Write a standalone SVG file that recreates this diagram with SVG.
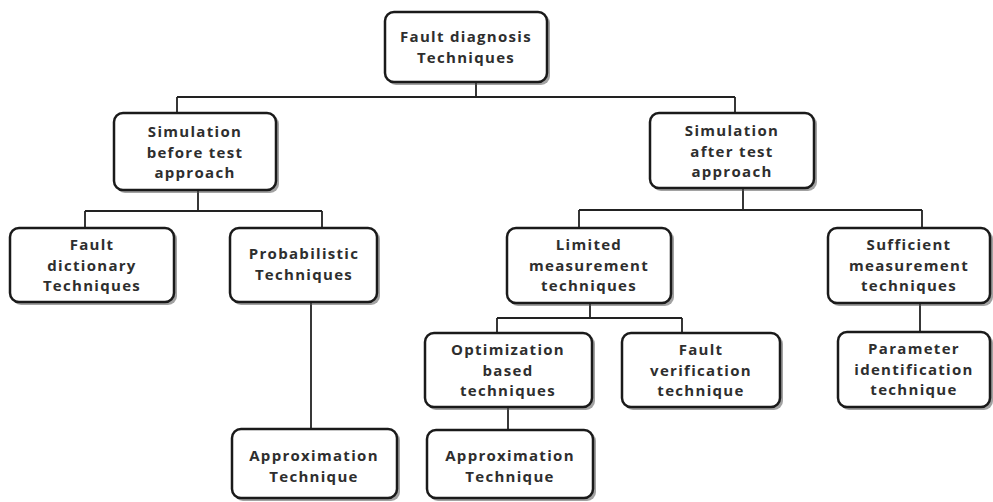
<svg xmlns="http://www.w3.org/2000/svg" width="993" height="502" viewBox="0 0 993 502">
<style>
.box{fill:#ffffff;stroke:#1a1a1a;stroke-width:2.5}
.sh{fill:#555555;opacity:0.55}
.t{font-family:"Open Sans","Liberation Sans",sans-serif;font-weight:bold;font-size:15px;letter-spacing:1.3px;fill:#2e2e2e;text-anchor:middle}
.c{fill:none;stroke:#222222;stroke-width:1.8}
</style>
<rect width="993" height="502" fill="#ffffff"/>
<g id="connectors">
<path class="c" d="M476 82V97M177 97H735M177 97V113M735 97V113"/>
<path class="c" d="M198 190V211M85 211H322M85 211V228M322 211V228"/>
<path class="c" d="M311 302V429"/>
<path class="c" d="M743 188V210M579 210H922M579 210V228M922 210V228"/>
<path class="c" d="M590 303V318M497 318H682M497 318V333M682 318V333"/>
<path class="c" d="M508 407V430"/>
<path class="c" d="M920 303V332"/>
</g>
<g id="n-root">
<rect class="sh" x="387" y="14" width="163" height="71" rx="9"/>
<rect class="box" x="385" y="12" width="162" height="70" rx="9"/>
<text class="t" x="466" y="42">Fault diagnosis</text>
<text class="t" x="466" y="62.5">Techniques</text>
</g>
<g id="n-before">
<rect class="sh" x="116" y="115" width="163" height="78" rx="9"/>
<rect class="box" x="114" y="113" width="162" height="77" rx="9"/>
<text class="t" x="195" y="137">Simulation</text>
<text class="t" x="195" y="157.5">before test</text>
<text class="t" x="195" y="178">approach</text>
</g>
<g id="n-after">
<rect class="sh" x="652" y="115" width="165" height="76" rx="9"/>
<rect class="box" x="650" y="113" width="164" height="75" rx="9"/>
<text class="t" x="732" y="136">Simulation</text>
<text class="t" x="732" y="156.5">after test</text>
<text class="t" x="732" y="177">approach</text>
</g>
<g id="n-dict">
<rect class="sh" x="12" y="230" width="165" height="75" rx="9"/>
<rect class="box" x="10" y="228" width="164" height="74" rx="9"/>
<text class="t" x="92" y="250">Fault</text>
<text class="t" x="92" y="270.5">dictionary</text>
<text class="t" x="92" y="291">Techniques</text>
</g>
<g id="n-prob">
<rect class="sh" x="232" y="230" width="148" height="75" rx="9"/>
<rect class="box" x="230" y="228" width="147" height="74" rx="9"/>
<text class="t" x="304" y="259">Probabilistic</text>
<text class="t" x="304" y="279.5">Techniques</text>
</g>
<g id="n-limited">
<rect class="sh" x="509" y="230" width="165" height="76" rx="9"/>
<rect class="box" x="507" y="228" width="164" height="75" rx="9"/>
<text class="t" x="589" y="250">Limited</text>
<text class="t" x="589" y="270.5">measurement</text>
<text class="t" x="589" y="291">techniques</text>
</g>
<g id="n-sufficient">
<rect class="sh" x="830" y="230" width="163" height="76" rx="9"/>
<rect class="box" x="828" y="228" width="162" height="75" rx="9"/>
<text class="t" x="909" y="250">Sufficient</text>
<text class="t" x="909" y="270.5">measurement</text>
<text class="t" x="909" y="291">techniques</text>
</g>
<g id="n-optim">
<rect class="sh" x="427" y="335" width="168" height="75" rx="9"/>
<rect class="box" x="425" y="333" width="167" height="74" rx="9"/>
<text class="t" x="508" y="355">Optimization</text>
<text class="t" x="508" y="375.5">based</text>
<text class="t" x="508" y="396">techniques</text>
</g>
<g id="n-verif">
<rect class="sh" x="624" y="335" width="159" height="75" rx="9"/>
<rect class="box" x="622" y="333" width="158" height="74" rx="9"/>
<text class="t" x="701" y="355">Fault</text>
<text class="t" x="701" y="375.5">verification</text>
<text class="t" x="701" y="396">technique</text>
</g>
<g id="n-param">
<rect class="sh" x="840" y="334" width="153" height="76" rx="9"/>
<rect class="box" x="838" y="332" width="152" height="75" rx="9"/>
<text class="t" x="914" y="354">Parameter</text>
<text class="t" x="914" y="374.5">identification</text>
<text class="t" x="914" y="395">technique</text>
</g>
<g id="n-approx1">
<rect class="sh" x="234" y="431" width="166" height="70" rx="9"/>
<rect class="box" x="232" y="429" width="165" height="69" rx="9"/>
<text class="t" x="314" y="461">Approximation</text>
<text class="t" x="314" y="481.5">Technique</text>
</g>
<g id="n-approx2">
<rect class="sh" x="429" y="432" width="167" height="69" rx="9"/>
<rect class="box" x="427" y="430" width="166" height="68" rx="9"/>
<text class="t" x="510" y="461">Approximation</text>
<text class="t" x="510" y="481.5">Technique</text>
</g>
</svg>
